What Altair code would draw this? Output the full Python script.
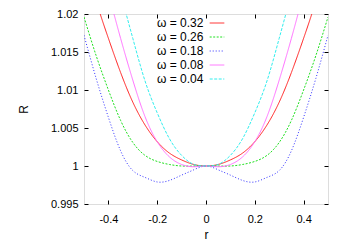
import altair as alt
import pandas as pd

# radial coordinate samples
r_values = [-0.5, -0.45, -0.4, -0.35, -0.3, -0.25, -0.2, -0.15, -0.1, -0.05, 0.0,
            0.05, 0.1, 0.15, 0.2, 0.25, 0.3, 0.35, 0.4, 0.45, 0.5]

# R values (one list per omega)
R_032 = [1.0275, 1.0217, 1.0168, 1.0123, 1.0084, 1.0054, 1.0032, 1.0017, 1.0008, 1.0002, 1.0000,
         1.0002, 1.0008, 1.0017, 1.0032, 1.0054, 1.0084, 1.0123, 1.0168, 1.0217, 1.0275]
R_026 = [1.0196, 1.0145, 1.0100, 1.0060, 1.0031, 1.0014, 1.0006, 1.0002, 1.0000, 1.0000, 1.0000,
         1.0000, 1.0000, 1.0002, 1.0006, 1.0014, 1.0031, 1.0060, 1.0100, 1.0145, 1.0196]
R_018 = [1.0172, 1.0115, 1.0064, 1.0020, 0.9994, 0.9985, 0.9979, 0.9981, 0.9988, 0.9995, 1.0000,
         0.9995, 0.9988, 0.9981, 0.9979, 0.9985, 0.9994, 1.0020, 1.0064, 1.0115, 1.0172]
R_008 = [1.0360, 1.0292, 1.0228, 1.0168, 1.0113, 1.0065, 1.0032, 1.0012, 1.0002, 0.9999, 1.0000,
         0.9999, 1.0002, 1.0012, 1.0032, 1.0065, 1.0113, 1.0168, 1.0228, 1.0292, 1.0360]
R_004 = [1.0440, 1.0365, 1.0295, 1.0228, 1.0168, 1.0112, 1.0070, 1.0036, 1.0014, 1.0002, 1.0000,
         1.0002, 1.0014, 1.0036, 1.0070, 1.0112, 1.0168, 1.0228, 1.0295, 1.0365, 1.0440]

series_labels = ["ω = 0.32", "ω = 0.26", "ω = 0.18", "ω = 0.08", "ω = 0.04"]
series_values = [R_032, R_026, R_018, R_008, R_004]
series_colors = ["#ff2020", "#20e020", "#3030ff", "#ff70ff", "#30eeee"]
series_dashes = [[1, 0], [2, 1.5], [1, 2], [1, 0], [3, 1.5]]

x_ticks = [-0.4, -0.2, 0, 0.2, 0.4]
y_ticks = [0.995, 1, 1.005, 1.01, 1.015, 1.02]

rows = []
for lab, vals in zip(series_labels, series_values):
    for rv, Rv in zip(r_values, vals):
        rows.append({"series": lab, "r": rv, "R": Rv})
df = pd.DataFrame(rows)

W, H = 244, 190
TICK = 4
FONT = "Liberation Sans"

legend_cfg = dict(
    orient="none", legendX=125, legendY=1, title=None,
    symbolType="stroke", symbolSize=213, symbolStrokeWidth=1,
    labelAlign="right", labelOffset={"expr": "-21.6"}, labelFont=FONT, labelFontSize=12,
    labelColor="#000", padding=0, rowPadding=0,
)

chart = alt.Chart(df).mark_line(clip=True, strokeWidth=1, interpolate="natural").encode(
    x=alt.X("r:Q",
            scale=alt.Scale(domain=[-0.5, 0.5], nice=False, zero=False),
            axis=alt.Axis(values=x_ticks, title="r", labelExpr="'' + datum.value",
                          ticks=False, domain=False, labelPadding=9,
                          grid=True, gridColor="#000", gridOpacity=1, gridWidth=1,
                          gridDash=[TICK, H - 2 * TICK, TICK, 2000],
                          labelFont=FONT, labelFontSize=11, labelColor="#000",
                          titleFont=FONT, titleFontSize=12, titleFontWeight="normal",
                          titleColor="#000", titlePadding=5)),
    y=alt.Y("R:Q",
            scale=alt.Scale(domain=[0.995, 1.02], nice=False, zero=False),
            axis=alt.Axis(values=y_ticks, title="R", labelExpr="'' + datum.value",
                          ticks=False, domain=False, labelPadding=6,
                          grid=True, gridColor="#000", gridOpacity=1, gridWidth=1,
                          gridDash=[TICK, W - 2 * TICK, TICK, 2000],
                          labelFont=FONT, labelFontSize=11, labelColor="#000",
                          titleFont=FONT, titleFontSize=12, titleFontWeight="normal",
                          titleColor="#000", titlePadding=20)),
    color=alt.Color("series:N", scale=alt.Scale(domain=series_labels, range=series_colors),
                    legend=alt.Legend(**legend_cfg)),
    strokeDash=alt.StrokeDash("series:N", scale=alt.Scale(domain=series_labels, range=series_dashes),
                              legend=alt.Legend(**legend_cfg)),
).properties(
    width=W, height=H,
    autosize="none",
    padding={"left": 76, "top": 6, "right": 10, "bottom": 40},
).configure_view(stroke="#000", strokeWidth=1).configure(background="white")

chart.save("out.html", embed_options={"renderer": "svg", "actions": False})
